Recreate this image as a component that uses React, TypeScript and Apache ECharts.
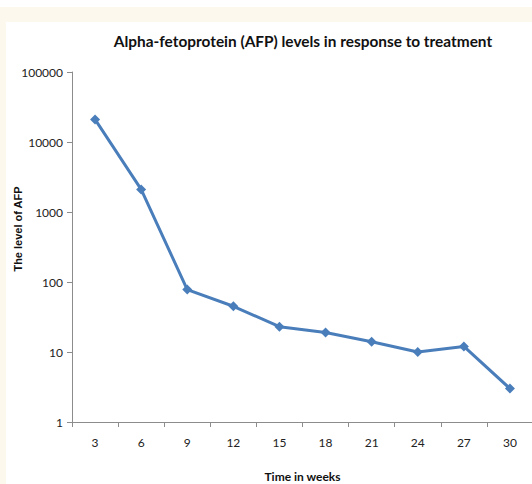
import React, { useEffect, useRef } from "react";
import * as echarts from "echarts";

const weeks = ["3", "6", "9", "12", "15", "18", "21", "24", "27", "30"];
const afpLevels = [21000, 2100, 78, 45, 23, 19, 14, 10, 12, 3];
const yTicks = [1, 10, 100, 1000, 10000, 100000];

export default function App() {
  const ref = useRef<HTMLDivElement>(null);
  useEffect(() => {
    if (!ref.current) return;
    const chart = echarts.init(ref.current, undefined, { renderer: "svg" });
    chart.setOption({
      animation: false,
      backgroundColor: "#ffffff",
      graphic: [
        { type: "rect", left: 0, top: 7, shape: { width: 532, height: 15 }, style: { fill: "#fcf8ee" }, z: -10 },
        { type: "rect", left: 0, top: 7, shape: { width: 6, height: 477 }, style: { fill: "#fcf8ee" }, z: -10 },
        {
          type: "text",
          x: 18,
          y: 229,
          rotation: Math.PI / 2,
          style: {
            text: "The level of AFP",
            fontFamily: "Liberation Sans",
            fontWeight: "bold",
            fontSize: 11,
            fill: "#111",
            align: "center",
            verticalAlign: "middle",
          },
        },
      ],
      title: {
        text: "Alpha-fetoprotein (AFP) levels in response to treatment",
        left: 298,
        top: 28,
        textAlign: "center",
        textStyle: { fontFamily: "Lato", fontWeight: "bold", fontSize: 15.4, color: "#111" },
      },
      grid: { left: 72, top: 72, width: 461, bottom: 62, containLabel: false, outerBoundsMode: "none" },
      xAxis: {
        type: "category",
        data: weeks,
        boundaryGap: true,
        name: "Time in weeks",
        nameLocation: "middle",
        nameGap: 48,
        nameMoveOverlap: false,
        nameTextStyle: { fontFamily: "Lato", fontWeight: "bold", fontSize: 12, color: "#111" },
        axisLine: { lineStyle: { color: "#8c8c8c", width: 1 } },
        axisTick: { show: true, length: 5, alignWithLabel: false, lineStyle: { color: "#8c8c8c" } },
        axisLabel: { margin: 14, fontFamily: "Lato", fontSize: 12, color: "#222" },
        splitLine: { show: false },
      },
      yAxis: {
        type: "log",
        logBase: 10,
        min: yTicks[0],
        max: yTicks[yTicks.length - 1],
        axisLine: { show: true, lineStyle: { color: "#8c8c8c", width: 1 } },
        axisTick: { show: true, length: 5, lineStyle: { color: "#8c8c8c" } },
        minorTick: { show: false },
        axisLabel: {
          margin: 9,
          fontFamily: "Lato",
          fontSize: 12,
          color: "#222",
          formatter: (v: number) => String(Math.round(v)),
        },
        splitLine: { show: false },
      },
      series: [
        {
          type: "line",
          data: afpLevels,
          symbol: "diamond",
          symbolSize: 10,
          lineStyle: { color: "#4a7ebb", width: 3 },
          itemStyle: { color: "#4a7ebb" },
        },
      ],
    });
    return () => chart.dispose();
  }, []);
  return (
    <div
      ref={ref}
      style={{ position: "fixed", left: 0, top: 0, width: 532, height: 484, background: "#fff" }}
    />
  );
}
